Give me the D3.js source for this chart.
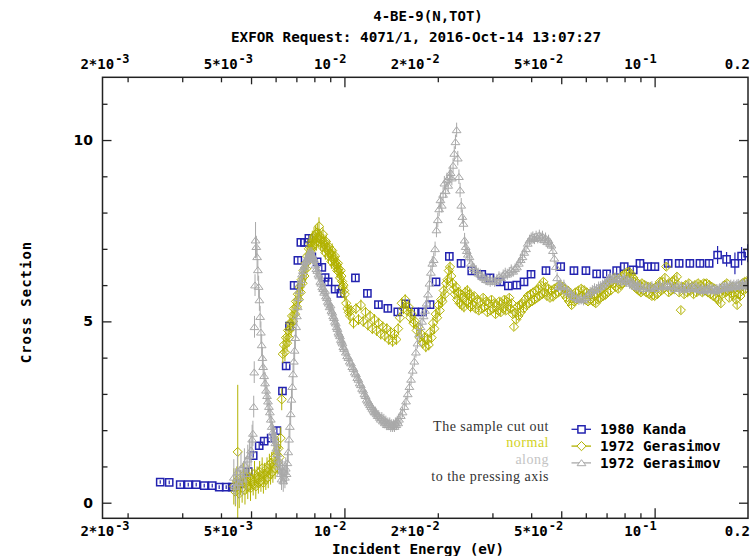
<!DOCTYPE html>
<html><head><meta charset="utf-8">
<script src="https://cdn.jsdelivr.net/npm/d3@7/dist/d3.min.js"></script>
<style>body{margin:0;background:#fff}</style>
</head><body>
<svg id="chart" width="752" height="556"></svg>
<script>
// ---------- DATA ----------
const titleLines = ["4-BE-9(N,TOT)", "EXFOR Request: 4071/1, 2016-Oct-14 13:07:27"];
const xLabelVals = [0.002, 0.005, 0.01, 0.02, 0.05, 0.1, 0.2];
const xLabelBase = ["2*10", "5*10", "10", "2*10", "5*10", "10", "0.2"];
const xLabelExp  = ["-3", "-3", "-2", "-2", "-2", "-1", ""];
const xMinorTicks = [0.002,0.003,0.004,0.006,0.007,0.008,0.009,0.02,0.03,0.04,0.06,0.07,0.08,0.09];
const xMidTicks = [0.005, 0.05];
const xMajorTicks = [0.01, 0.1];
const yMajorTicks = [0, 5, 10];
const yMinorTicks = [1,2,3,4,6,7,8,9,11];
const seriesNames = ["1980 Kanda", "1972 Gerasimov", "1972 Gerasimov"];
const noteLines = ["The sample cut out", "normal", "along", "to the pressing axis"];

// [energy eV, cross section, error]
const kanda = [
[0.002548,0.57,0.05],[0.002724,0.56,0.05],[0.002955,0.50,0.05],[0.003137,0.50,0.05],[0.003328,0.50,0.05],
[0.003532,0.47,0.05],[0.003749,0.47,0.05],[0.003947,0.43,0.05],[0.004158,0.43,0.05],[0.004347,0.43,0.05],
[0.004579,0.52,0.1],[0.004896,0.86,0.1],[0.005081,1.30,0.1],[0.005312,1.57,0.1],[0.005513,1.70,0.1],
[0.005805,1.78,0.1],[0.006057,1.99,0.1],[0.006313,3.08,0.1],[0.006489,3.77,0.1],[0.00665,4.87,0.1],
[0.006886,5.99,0.1],[0.007078,6.68,0.1],[0.007236,7.18,0.1],[0.007433,7.18,0.1],[0.007681,7.29,0.1],
[0.007852,6.78,0.1],[0.008166,6.64,0.1],[0.008455,6.49,0.1],[0.008665,6.21,0.1],[0.00886,6.09,0.1],
[0.009333,5.89,0.1],[0.009737,5.77,0.1],[0.01085,6.20,0.1],[0.01186,5.77,0.1],[0.01287,5.46,0.1],
[0.0138,5.36,0.1],[0.01486,5.26,0.1],[0.01577,5.48,0.1],[0.01681,5.26,0.1],[0.01784,5.26,0.1],
[0.01888,5.46,0.1],[0.01974,6.09,0.1],[0.02179,6.79,0.1],[0.02377,6.60,0.1],[0.02573,6.39,0.1],
[0.02772,6.30,0.1],[0.02947,6.20,0.1],[0.03175,6.09,0.1],[0.03377,5.98,0.1],[0.03594,6.00,0.1],
[0.03793,6.09,0.1],[0.03996,6.30,0.1],[0.04465,6.40,0.1],[0.0498,6.51,0.1],[0.05495,6.40,0.1],
[0.06006,6.40,0.1],[0.06504,6.31,0.1],[0.07005,6.31,0.1],[0.07544,6.40,0.1],[0.07981,6.51,0.1],
[0.08533,6.42,0.1],[0.08968,6.60,0.1],[0.09496,6.51,0.1],[0.1002,6.51,0.1],[0.1106,6.60,0.1],
[0.12,6.60,0.1],[0.1299,6.60,0.1],[0.14,6.60,0.1],[0.1499,6.60,0.1],[0.1596,6.83,0.25],
[0.1706,6.71,0.2],[0.1815,6.60,0.3],[0.1907,6.80,0.25],[0.1995,6.88,0.25]
];

const gerasimovNormal = [
[0.00440,0.45,0.5],[0.00445,0.30,0.4],[0.00450,0.60,0.4],[0.00453,1.40,1.85],[0.00458,0.25,0.4],[0.00462,0.55,0.35],
[0.00468,0.40,0.4],[0.00472,0.75,0.35],[0.00478,0.35,0.4],[0.00483,0.60,0.35],[0.00488,0.45,0.35],[0.00493,0.70,0.35],
[0.00498,0.40,0.35],[0.00503,0.65,0.3],[0.00508,0.50,0.3],[0.00513,0.80,0.35],[0.00518,0.45,0.35],[0.00523,0.70,0.3],
[0.00528,0.55,0.3],[0.00533,0.85,0.3],[0.00538,0.60,0.3],[0.00543,0.95,0.3],[0.00548,0.55,0.3],[0.00553,0.80,0.3],
[0.00558,0.65,0.3],[0.00563,0.95,0.3],[0.00568,0.70,0.3],[0.00573,1.05,0.3],[0.00578,0.80,0.3],[0.00583,1.10,0.3],
[0.00588,0.85,0.3],[0.00593,1.25,0.3],[0.00598,0.95,0.3],[0.00603,1.35,0.3],[0.00608,1.10,0.3],[0.00613,1.50,0.3],
[0.00618,1.25,0.3],[0.00623,1.78,0.3],[0.00628,2.85,0.3],
[0.00633,4.10,0.25],[0.00638,4.35,0.25],[0.00643,4.15,0.25],[0.00648,4.55,0.25],[0.00653,4.40,0.25],[0.00658,4.75,0.25],
[0.00663,4.55,0.25],[0.00668,4.95,0.25],[0.00673,4.80,0.25],[0.00678,5.15,0.25],[0.00683,5.00,0.25],[0.00688,5.35,0.25],
[0.00693,5.20,0.25],[0.00698,5.55,0.25],[0.00703,5.40,0.25],[0.00708,5.75,0.25],[0.00713,5.60,0.25],[0.00718,5.95,0.25],
[0.00723,5.80,0.25],[0.00728,6.15,0.25],[0.00733,6.05,0.25],[0.00738,6.40,0.25],[0.00743,6.25,0.25],[0.00748,6.60,0.25],
[0.00753,6.45,0.25],[0.00758,6.80,0.25],[0.00763,6.65,0.25],[0.00768,7.00,0.25],[0.00773,6.85,0.25],[0.00778,7.15,0.25],
[0.00783,7.00,0.25],[0.00788,7.25,0.25],[0.00793,7.10,0.25],[0.00798,7.35,0.25],[0.00803,7.15,0.25],[0.00808,7.40,0.25],
[0.00813,7.20,0.25],[0.00818,7.45,0.25],[0.00823,7.30,0.25],[0.00828,7.62,0.25],[0.00833,7.35,0.2],[0.00838,7.15,0.2],
[0.00843,7.25,0.2],[0.00848,7.05,0.2],[0.00853,7.40,0.2],[0.00858,7.20,0.2],[0.00863,7.10,0.2],[0.00868,6.90,0.2],
[0.00873,7.20,0.2],[0.00878,7.05,0.2],[0.00883,6.95,0.2],[0.00888,6.80,0.2],[0.00893,7.05,0.2],[0.00898,6.90,0.2],
[0.00903,6.85,0.2],[0.00908,6.65,0.2],[0.00913,6.95,0.2],[0.00918,6.80,0.2],[0.00923,6.70,0.2],[0.00928,6.55,0.2],
[0.00933,6.80,0.2],[0.00938,6.65,0.2],[0.00943,6.55,0.2],[0.00948,6.40,0.2],[0.00953,6.60,0.2],[0.00958,6.45,0.2],
[0.00963,6.35,0.2],[0.00968,6.20,0.2],[0.00973,6.40,0.2],[0.00978,6.25,0.2],[0.00983,6.10,0.2],[0.00988,5.95,0.2],
[0.00993,6.00,0.2],[0.00998,5.85,0.2],[0.01003,5.75,0.2],[0.01013,5.50,0.2],[0.01023,5.35,0.2],[0.01033,5.25,0.2],
[0.01043,5.15,0.2],
[0.0105,5.30,0.15],[0.0107,4.95,0.15],[0.0109,5.35,0.15],[0.0111,5.05,0.15],[0.0113,5.45,0.15],[0.0115,5.00,0.15],
[0.0117,5.25,0.15],[0.0119,4.90,0.15],[0.0121,5.15,0.15],[0.0123,4.80,0.15],[0.0125,5.05,0.15],[0.0127,4.75,0.15],
[0.0129,4.95,0.15],[0.0131,4.65,0.15],[0.0133,4.85,0.15],[0.0135,4.60,0.15],[0.0137,4.80,0.15],[0.0139,4.50,0.15],
[0.0141,4.70,0.15],[0.0143,4.45,0.15],[0.0145,4.65,0.15],[0.0147,4.50,0.15],[0.0149,4.80,0.15],[0.0151,5.10,0.15],
[0.0153,5.50,0.15],[0.0155,5.35,0.15],[0.0157,5.60,0.15],[0.0159,5.30,0.15],[0.0161,5.40,0.15],[0.0163,5.10,0.15],
[0.0165,5.20,0.15],[0.0167,4.95,0.15],[0.0169,5.00,0.15],[0.0171,4.75,0.15],[0.0173,4.85,0.15],[0.0175,4.55,0.15],
[0.0177,4.65,0.15],[0.0179,4.40,0.15],[0.0181,4.55,0.15],[0.0183,4.30,0.15],[0.0185,4.50,0.15],[0.0187,4.35,0.15],
[0.0189,4.70,0.15],[0.0191,4.55,0.15],[0.0193,4.95,0.15],[0.0195,4.80,0.15],[0.0197,5.20,0.15],[0.0199,5.10,0.15],
[0.0201,5.45,0.15],[0.0203,5.30,0.15],[0.0205,5.60,0.15],[0.0207,5.55,0.15],[0.0209,5.85,0.15],[0.0211,5.75,0.15],
[0.0213,6.05,0.15],[0.0215,6.15,0.15],[0.0217,6.40,0.15],[0.0219,6.50,0.15],[0.0221,6.25,0.15],[0.0223,6.05,0.15],
[0.0225,5.90,0.15],[0.0227,5.75,0.15],[0.0229,5.95,0.15],[0.0231,5.60,0.15],[0.0233,5.80,0.15],[0.0235,5.50,0.15],
[0.0237,5.75,0.15],[0.0239,5.45,0.15],[0.0241,5.65,0.15],[0.0243,5.40,0.15],[0.0245,5.80,0.15],[0.0247,5.55,0.15],
[0.0249,5.85,0.15],[0.0251,5.50,0.15],[0.0253,5.75,0.15],[0.0255,5.40,0.15],[0.0257,5.65,0.15],[0.0259,5.45,0.15],
[0.0262,5.70,0.1],[0.0265,5.35,0.1],[0.0268,5.60,0.1],[0.0271,5.30,0.1],[0.0274,5.55,0.1],[0.0277,5.35,0.1],
[0.0280,5.65,0.1],[0.0283,5.40,0.1],[0.0286,5.55,0.1],[0.0289,5.25,0.1],[0.0292,5.50,0.1],[0.0295,5.30,0.1],
[0.0298,5.60,0.1],[0.0301,5.35,0.1],[0.0304,5.50,0.1],[0.0307,5.20,0.1],[0.0310,5.45,0.1],[0.0313,5.30,0.1],
[0.0316,5.55,0.1],[0.0319,5.25,0.1],[0.0322,5.50,0.1],[0.0325,5.35,0.1],[0.0328,5.60,0.1],[0.0331,5.30,0.1],
[0.0334,5.55,0.1],[0.0337,5.40,0.1],[0.0340,5.65,0.1],[0.0343,5.35,0.1],[0.0346,5.50,0.1],[0.0349,5.20,0.1],
[0.0352,4.85,0.1],[0.0355,5.25,0.1],[0.0358,5.05,0.1],[0.0361,5.40,0.1],[0.0364,5.15,0.1],[0.0367,5.45,0.1],
[0.0370,5.25,0.1],[0.0374,5.50,0.1],[0.0378,5.35,0.1],[0.0382,5.60,0.1],[0.0386,5.45,0.1],[0.0390,5.70,0.1],
[0.0394,5.50,0.1],[0.0398,5.75,0.1],[0.0402,5.55,0.1],[0.0406,5.80,0.1],[0.0410,5.60,0.1],[0.0414,5.85,0.1],
[0.0418,5.65,0.1],[0.0422,5.90,0.1],[0.0426,5.70,0.1],[0.0430,6.00,0.1],[0.0434,5.75,0.1],[0.0438,6.09,0.1],
[0.0442,5.80,0.1],[0.0446,5.95,0.1],[0.0450,5.70,0.1],[0.0455,5.90,0.1],[0.0460,5.65,0.1],[0.0465,5.85,0.1],
[0.0470,5.68,0.1],[0.0475,5.90,0.1],[0.0480,5.75,0.1],[0.0485,5.95,0.1],[0.0490,5.80,0.1],[0.0495,6.00,0.1],
[0.0500,5.85,0.1],[0.0505,5.95,0.1],[0.0510,5.75,0.1],[0.0515,5.90,0.1],[0.0520,5.65,0.1],[0.0525,5.85,0.1],
[0.0530,5.55,0.1],[0.0535,5.75,0.1],[0.0540,5.45,0.1],[0.0545,5.70,0.1],[0.0550,5.55,0.1],[0.0556,5.80,0.1],
[0.0562,5.60,0.1],[0.0568,5.85,0.1],[0.0574,5.65,0.1],[0.0580,5.90,0.1],[0.0586,5.70,0.1],[0.0592,5.86,0.1],
[0.0598,5.60,0.1],[0.0604,5.80,0.1],[0.0610,5.55,0.1],[0.0616,5.75,0.1],[0.0622,5.60,0.1],[0.0628,5.80,0.1],
[0.0634,5.55,0.1],[0.0640,5.70,0.1],[0.0646,5.50,0.1],[0.0652,5.75,0.1],[0.0658,5.60,0.1],[0.0664,5.85,0.1],
[0.0670,5.65,0.1],[0.0676,5.90,0.1],[0.0682,5.70,0.1],[0.0688,5.95,0.1],[0.0694,5.73,0.1],[0.0700,6.00,0.1],
[0.0707,5.80,0.1],[0.0714,6.05,0.1],[0.0721,5.85,0.1],[0.0728,6.10,0.1],[0.0735,6.05,0.1],[0.0742,6.20,0.1],
[0.0749,5.95,0.1],[0.0756,6.15,0.1],[0.0763,5.90,0.1],[0.0770,6.19,0.1],[0.0777,6.00,0.1],[0.0784,6.25,0.1],
[0.0791,6.05,0.1],[0.0798,6.30,0.1],[0.0805,6.10,0.1],[0.0812,6.35,0.1],[0.0819,6.15,0.1],[0.0826,6.37,0.1],
[0.0833,6.20,0.1],[0.0840,6.30,0.1],[0.0847,6.05,0.1],[0.0854,6.20,0.1],[0.0861,5.95,0.1],[0.0868,6.10,0.1],
[0.0875,5.90,0.1],[0.0882,6.05,0.1],[0.0889,5.85,0.1],[0.0896,6.00,0.1],[0.0903,5.80,0.1],[0.0910,6.05,0.1],
[0.0920,5.85,0.1],[0.0930,6.00,0.1],[0.0940,5.80,0.1],[0.0950,5.96,0.1],[0.0960,5.75,0.1],[0.0970,5.95,0.1],
[0.0980,5.70,0.1],[0.0990,5.90,0.1],[0.1000,5.70,0.1],[0.1010,5.95,0.1],[0.1020,5.75,0.1],[0.1030,6.00,0.1],
[0.1040,6.09,0.1],[0.1050,5.85,0.1],[0.1060,6.10,0.1],[0.1070,5.90,0.1],[0.1080,6.20,0.1],[0.1090,6.51,0.1],
[0.1100,6.00,0.1],[0.1110,5.80,0.1],[0.1120,6.05,0.1],[0.1130,5.85,0.1],[0.1140,6.10,0.1],[0.1150,5.90,0.1],
[0.1160,6.15,0.1],[0.1170,5.95,0.1],[0.1180,6.23,0.1],[0.1190,6.00,0.1],[0.1200,5.80,0.1],[0.1215,5.31,0.1],
[0.1230,5.95,0.1],[0.1245,5.75,0.1],[0.1260,6.00,0.1],[0.1275,5.80,0.1],[0.1290,6.05,0.1],[0.1305,5.85,0.1],
[0.1320,5.96,0.1],[0.1335,5.75,0.1],[0.1350,6.00,0.1],[0.1365,5.80,0.1],[0.1380,6.05,0.1],[0.1395,5.85,0.1],
[0.1410,6.00,0.1],[0.1425,5.80,0.1],[0.1440,6.05,0.1],[0.1455,5.85,0.1],[0.1470,6.05,0.1],[0.1485,5.80,0.1],
[0.1500,6.00,0.1],[0.1515,5.75,0.1],[0.1530,5.95,0.1],[0.1545,5.70,0.1],[0.1560,5.90,0.1],[0.1575,5.65,0.1],
[0.1590,5.85,0.1],[0.1605,5.60,0.1],[0.1620,5.80,0.1],[0.1635,5.50,0.1],[0.1650,5.75,0.1],[0.1665,5.85,0.1],
[0.1680,6.00,0.1],[0.1695,5.80,0.1],[0.1710,6.05,0.1],[0.1725,5.85,0.1],[0.1740,5.65,0.1],[0.1755,5.90,0.1],
[0.1770,5.77,0.1],[0.1785,5.95,0.1],[0.1800,5.70,0.1],[0.1815,5.90,0.1],[0.1830,5.60,0.1],[0.1845,5.45,0.1],
[0.1860,5.75,0.1],[0.1875,5.90,0.1],[0.1890,5.70,0.1],[0.1905,5.95,0.1],[0.1920,6.05,0.1],[0.1935,5.85,0.1],
[0.1950,6.09,0.1],[0.1965,5.90,0.1],[0.1980,6.10,0.1],[0.1995,6.00,0.1]
];

const gerasimovAlong = [
[0.00440,0.70,0.5],[0.00446,0.45,0.5],[0.00452,0.85,0.5],[0.00458,0.55,0.45],[0.00464,0.95,0.45],[0.00470,0.65,0.45],
[0.00476,1.05,0.45],[0.00482,0.80,0.45],[0.00488,1.20,0.4],[0.00494,1.30,0.45],[0.00500,1.45,0.45],[0.00504,1.75,0.4],
[0.00507,1.91,0.35],[0.00510,2.65,0.3],[0.00512,3.60,0.3],[0.00513,4.85,0.3],[0.00515,6.00,0.3],[0.00517,7.24,0.5],
[0.00520,7.06,0.3],[0.00523,6.78,0.3],[0.00526,6.42,0.3],[0.00529,5.96,0.3],[0.00532,5.59,0.3],[0.00535,5.13,0.3],
[0.00538,4.70,0.3],[0.00541,4.35,0.3],[0.00544,4.00,0.3],[0.00547,3.75,0.3],[0.00551,3.50,0.3],[0.00555,3.30,0.3],
[0.00559,3.10,0.3],[0.00563,2.95,0.3],[0.00567,2.80,0.3],[0.00571,2.65,0.3],[0.00575,2.50,0.3],[0.00579,2.30,0.3],
[0.00583,2.10,0.3],[0.00587,1.95,0.3],[0.00591,1.85,0.3],[0.00595,1.75,0.3],[0.00599,1.65,0.3],[0.00603,1.50,0.3],
[0.00607,1.35,0.3],[0.00611,1.20,0.3],[0.00615,1.10,0.3],[0.00619,1.00,0.3],[0.00623,0.80,0.3],[0.00627,0.65,0.3],
[0.00631,0.90,0.3],[0.00635,0.60,0.3],[0.00639,0.85,0.3],[0.00643,0.70,0.3],[0.00647,0.95,0.3],[0.00651,0.80,0.3],
[0.00655,1.10,0.3],[0.00659,1.40,0.3],[0.00663,1.75,0.3],[0.00667,2.10,0.3],[0.00671,2.45,0.3],[0.00675,2.85,0.3],
[0.00679,3.20,0.3],[0.00683,3.55,0.3],[0.00687,3.90,0.3],[0.00691,4.20,0.3],[0.00695,4.55,0.3],[0.00699,4.85,0.3],
[0.00703,5.15,0.25],[0.00707,5.40,0.25],[0.00711,5.65,0.25],[0.00715,5.85,0.25],[0.00720,6.05,0.2],[0.00725,6.15,0.2],
[0.00730,6.30,0.2],[0.00735,6.40,0.2],[0.00740,6.50,0.2],[0.00745,6.55,0.2],[0.00750,6.65,0.2],[0.00755,6.70,0.2],
[0.00760,6.75,0.2],[0.00765,6.80,0.2],[0.00770,6.78,0.2],[0.00775,6.85,0.2],[0.00780,6.80,0.2],[0.00785,6.85,0.2],
[0.00790,6.78,0.2],[0.00795,6.75,0.2],[0.00800,6.70,0.2],[0.00806,6.55,0.2],[0.00812,6.45,0.2],[0.00818,6.40,0.2],
[0.00824,6.30,0.2],[0.00830,6.25,0.2],[0.00836,6.10,0.2],[0.00842,6.05,0.2],[0.00848,5.95,0.2],[0.00854,5.90,0.2],
[0.00860,5.80,0.2],[0.00866,5.85,0.2],[0.00872,5.70,0.2],[0.00878,5.65,0.2],[0.00884,5.55,0.2],[0.00890,5.50,0.2],
[0.00896,5.40,0.2],[0.00902,5.45,0.2],[0.00908,5.30,0.2],[0.00914,5.25,0.2],[0.00920,5.15,0.2],[0.00926,5.10,0.2],
[0.00932,5.00,0.2],[0.00938,4.95,0.2],[0.00944,4.85,0.2],[0.00950,4.80,0.2],[0.00956,4.70,0.2],[0.00962,4.65,0.2],
[0.00968,4.60,0.2],[0.00974,4.50,0.2],[0.00980,4.45,0.2],[0.00986,4.40,0.2],[0.00992,4.30,0.2],[0.00998,4.25,0.2],
[0.0101,4.15,0.15],[0.0102,4.05,0.15],[0.0103,4.00,0.15],[0.0104,3.90,0.15],[0.0105,3.85,0.15],[0.0106,3.75,0.15],
[0.0107,3.70,0.15],[0.0108,3.60,0.15],[0.0109,3.55,0.15],[0.0110,3.45,0.15],[0.0111,3.40,0.15],[0.0112,3.30,0.15],
[0.0113,3.25,0.15],[0.0114,3.15,0.15],[0.0115,3.10,0.15],[0.0116,3.00,0.15],[0.0117,2.95,0.15],[0.0118,2.85,0.15],
[0.0119,2.80,0.15],[0.0120,2.75,0.15],[0.0121,2.70,0.15],[0.0122,2.65,0.15],[0.0123,2.60,0.15],[0.0124,2.55,0.15],
[0.0125,2.50,0.15],[0.0126,2.50,0.15],[0.0127,2.45,0.15],[0.0128,2.40,0.15],[0.0129,2.40,0.15],[0.0130,2.35,0.15],
[0.0131,2.30,0.15],[0.0132,2.35,0.15],[0.0133,2.25,0.15],[0.0134,2.30,0.15],[0.0135,2.20,0.15],[0.0136,2.25,0.15],
[0.0137,2.15,0.15],[0.0138,2.20,0.15],[0.0139,2.15,0.15],[0.0140,2.20,0.15],[0.0141,2.10,0.15],[0.0142,2.15,0.15],
[0.0143,2.10,0.15],[0.0144,2.15,0.15],[0.0145,2.10,0.15],[0.0146,2.20,0.15],[0.0147,2.15,0.15],[0.0148,2.25,0.15],
[0.0149,2.20,0.15],[0.0150,2.30,0.15],[0.0152,2.40,0.15],[0.0154,2.50,0.15],[0.0156,2.65,0.15],[0.0158,2.80,0.15],
[0.0160,3.00,0.15],[0.0162,3.20,0.15],[0.0164,3.40,0.15],[0.0166,3.65,0.15],[0.0168,3.90,0.15],[0.0170,4.15,0.15],
[0.0172,4.40,0.15],[0.0174,4.65,0.15],[0.0176,4.85,0.15],[0.0178,5.00,0.15],[0.0180,5.15,0.15],[0.0182,5.30,0.15],
[0.0184,5.50,0.2],[0.0186,5.75,0.2],[0.0188,6.05,0.2],[0.0190,6.35,0.2],[0.0192,6.60,0.2],[0.0194,6.70,0.2],
[0.0196,7.00,0.2],[0.0198,7.52,0.2],[0.0200,7.80,0.2],[0.0202,8.10,0.2],[0.0204,8.35,0.2],[0.0206,8.20,0.2],
[0.0208,8.50,0.2],[0.0210,8.81,0.2],[0.0212,8.60,0.2],[0.0214,8.90,0.2],[0.0216,8.75,0.2],[0.0218,8.99,0.2],
[0.0220,9.10,0.2],[0.0222,8.95,0.2],[0.0224,9.30,0.2],[0.0226,9.63,0.2],[0.0228,9.95,0.2],[0.0230,10.28,0.2],
[0.0232,9.50,0.2],[0.0234,8.99,0.2],[0.0236,8.62,0.2],[0.0238,8.20,0.2],[0.0240,7.89,0.2],[0.0242,7.70,0.2],
[0.0244,7.24,0.2],[0.0246,7.06,0.2],[0.0248,6.95,0.2],[0.0250,6.85,0.2],[0.0253,6.78,0.2],[0.0256,6.60,0.15],
[0.0259,6.51,0.15],[0.0262,6.45,0.15],[0.0266,6.40,0.15],[0.0270,6.33,0.15],[0.0274,6.30,0.15],[0.0278,6.23,0.15],
[0.0282,6.20,0.15],[0.0286,6.15,0.15],[0.0290,6.14,0.15],[0.0295,6.10,0.15],[0.0300,6.14,0.15],[0.0305,6.10,0.15],
[0.0310,6.15,0.15],[0.0315,6.23,0.15],[0.0320,6.20,0.15],[0.0325,6.28,0.15],[0.0330,6.33,0.15],[0.0335,6.30,0.15],
[0.0340,6.35,0.15],[0.0345,6.42,0.15],[0.0350,6.38,0.15],[0.0355,6.45,0.15],[0.0360,6.50,0.15],[0.0365,6.60,0.15],
[0.0370,6.70,0.15],[0.0375,6.78,0.15],[0.0380,6.90,0.15],[0.0385,7.00,0.15],[0.0390,7.15,0.15],[0.0395,7.24,0.15],
[0.0400,7.30,0.15],[0.0405,7.33,0.15],[0.0410,7.28,0.15],[0.0415,7.35,0.15],[0.0420,7.30,0.15],[0.0425,7.38,0.15],
[0.0430,7.30,0.15],[0.0435,7.35,0.15],[0.0440,7.25,0.15],[0.0445,7.30,0.15],[0.0450,7.20,0.15],[0.0455,7.24,0.15],
[0.0460,7.15,0.15],[0.0465,7.10,0.15],[0.0470,6.95,0.15],[0.0475,6.74,0.15],[0.0480,6.51,0.15],[0.0485,6.20,0.15],
[0.0490,5.96,0.15],[0.0495,6.00,0.15],[0.0500,5.95,0.15],[0.0510,6.00,0.15],[0.0520,5.85,0.15],[0.0530,5.80,0.15],
[0.0540,5.75,0.15],[0.0550,5.68,0.15],[0.0560,5.65,0.15],[0.0570,5.60,0.15],[0.0580,5.62,0.15],[0.0590,5.59,0.15],
[0.0600,5.65,0.15],[0.0610,5.73,0.15],[0.0620,5.80,0.15],[0.0630,5.85,0.15],[0.0640,5.90,0.15],[0.0650,5.88,0.15],
[0.0660,5.95,0.15],[0.0670,5.96,0.15],[0.0680,6.00,0.15],[0.0690,6.05,0.15],[0.0700,6.10,0.15],[0.0710,6.15,0.15],
[0.0720,6.19,0.15],[0.0730,6.15,0.15],[0.0740,6.19,0.15],[0.0750,6.20,0.15],[0.0760,6.15,0.15],[0.0770,6.19,0.15],
[0.0780,6.10,0.15],[0.0790,6.15,0.15],[0.0800,6.19,0.15],[0.0810,6.10,0.15],[0.0820,6.15,0.15],[0.0830,6.05,0.15],
[0.0840,6.10,0.15],[0.0850,6.05,0.15],[0.0860,6.00,0.15],[0.0870,5.96,0.15],[0.0880,6.00,0.15],[0.0890,5.95,0.15],
[0.0900,5.96,0.15],[0.0920,5.90,0.15],[0.0940,5.96,0.15],[0.0960,5.92,0.15],[0.0980,5.96,0.15],[0.1000,5.90,0.15],
[0.1020,5.96,0.15],[0.1040,6.00,0.15],[0.1060,5.95,0.15],[0.1080,6.00,0.15],[0.1100,5.98,0.15],[0.1120,6.00,0.15],
[0.1140,5.95,0.15],[0.1160,5.90,0.15],[0.1180,5.96,0.15],[0.1200,5.91,0.15],[0.1220,5.95,0.15],[0.1240,5.88,0.15],
[0.1260,5.92,0.15],[0.1280,5.96,0.15],[0.1300,5.90,0.15],[0.1320,5.96,0.15],[0.1340,5.92,0.15],[0.1360,5.96,0.15],
[0.1380,5.90,0.15],[0.1400,5.87,0.15],[0.1420,5.90,0.15],[0.1440,5.85,0.15],[0.1460,5.90,0.15],[0.1480,5.87,0.15],
[0.1500,5.92,0.15],[0.1520,5.87,0.15],[0.1540,5.90,0.15],[0.1560,5.85,0.15],[0.1580,5.88,0.15],[0.1600,5.87,0.15],
[0.1620,5.90,0.15],[0.1640,5.92,0.15],[0.1660,5.96,0.15],[0.1680,5.93,0.15],[0.1700,5.96,0.15],[0.1720,5.92,0.15],
[0.1740,5.96,0.15],[0.1760,6.00,0.15],[0.1780,5.96,0.15],[0.1800,6.00,0.15],[0.1820,5.96,0.15],[0.1840,6.00,0.15],
[0.1860,6.02,0.15],[0.1880,5.98,0.15],[0.1900,6.00,0.15],[0.1920,6.02,0.15],[0.1940,6.00,0.15],[0.1960,6.00,0.15],
[0.1980,6.02,0.15]
];

// ---------- STYLE ----------
const colBlue = "#2323b0", colOlive = "#b2b200", colGray = "#a9a9a9";
const monoFont = "'DejaVu Sans Mono', 'Liberation Mono', monospace";

const svg = d3.select("#chart");
const L = 102.5, R = 748, T = 77.3, B = 518.3;
const x = d3.scaleLog().domain([0.00166, 0.2]).range([L, R]);
const y = d3.scaleLinear().domain([-0.43, 11.73]).range([B, T]);

svg.append("rect").attr("width", 752).attr("height", 556).attr("fill", "#fff");

// titles
svg.append("text").attr("x", 428).attr("y", 21).attr("text-anchor", "middle")
  .attr("font-family", monoFont).attr("font-weight", "bold").attr("font-size", 14).text(titleLines[0]);
svg.append("text").attr("x", 416).attr("y", 41.5).attr("text-anchor", "middle")
  .attr("font-family", monoFont).attr("font-weight", "bold").attr("font-size", 14.3).text(titleLines[1]);

// clip
svg.append("clipPath").attr("id", "plotclip").append("rect")
  .attr("x", L).attr("y", T).attr("width", R - L).attr("height", B - T);
const plot = svg.append("g").attr("clip-path", "url(#plotclip)");

// marker shapes
const squarePath = "M-3.6,-3.6H3.6V3.6H-3.6Z";
const diamondPath = "M0,-4.6L4.6,0L0,4.6L-4.6,0Z";
const trianglePath = "M0,-3.2L4.4,2.8L-4.4,2.8Z";

function drawSeries(data, color, path, sw, errW) {
  const g = plot.append("g");
  g.selectAll("line.err").data(data).join("line")
    .attr("x1", d => x(d[0])).attr("x2", d => x(d[0]))
    .attr("y1", d => y(d[1] - d[2])).attr("y2", d => y(d[1] + d[2]))
    .attr("stroke", color).attr("stroke-width", errW);
  g.selectAll("path.m").data(data).join("path")
    .attr("d", path).attr("transform", d => `translate(${x(d[0])},${y(d[1])})`)
    .attr("fill", "none").attr("stroke", color).attr("stroke-width", sw);
}
drawSeries(kanda, colBlue, squarePath, 1.5, 1.2);
drawSeries(gerasimovNormal, colOlive, diamondPath, 1, 1);
drawSeries(gerasimovAlong, colGray, trianglePath, 1, 1);

// frame
svg.append("rect").attr("x", L).attr("y", T).attr("width", R - L).attr("height", B - T)
  .attr("fill", "none").attr("stroke", "#222").attr("stroke-width", 1.5);

// ticks via d3 axes (inward)
function addAxis(axisFn, scale, vals, size, tx, ty) {
  const g = svg.append("g").attr("transform", `translate(${tx},${ty})`)
    .call(axisFn(scale).tickValues(vals).tickSize(-size).tickFormat(""));
  g.select(".domain").remove();
  g.selectAll("line").attr("stroke", "#222").attr("stroke-width", 1.3);
}
[[xMinorTicks, 5], [xMidTicks, 7], [xMajorTicks, 10]].forEach(([v, s]) => {
  addAxis(d3.axisBottom, x, v, s, 0, B);
  addAxis(d3.axisTop, x, v, s, 0, T);
});
[[yMinorTicks, 5], [yMajorTicks, 9]].forEach(([v, s]) => {
  addAxis(d3.axisLeft, y, v, s, L, 0);
  addAxis(d3.axisRight, y, v, s, R, 0);
});

// x tick labels (bottom and top)
function xLabels(baseY) {
  xLabelVals.forEach((v, i) => {
    const t = svg.append("text").attr("x", x(v) + 2).attr("y", baseY).attr("text-anchor", "end")
      .attr("font-family", monoFont).attr("font-weight", "bold").attr("font-size", 14);
    t.append("tspan").text(xLabelBase[i]);
    if (xLabelExp[i]) t.append("tspan").attr("dy", -6).attr("dx", 1).attr("font-size", 12).text(xLabelExp[i]);
  });
}
xLabels(536);
xLabels(68.5);

// y tick labels
yMajorTicks.forEach(v => {
  svg.append("text").attr("x", 93).attr("y", y(v) + 5).attr("text-anchor", "end")
    .attr("font-family", "'DejaVu Sans', Verdana, sans-serif").attr("font-weight", "bold").attr("font-size", 14)
    .text(v);
});

// axis titles
svg.append("text").attr("x", 418).attr("y", 554).attr("text-anchor", "middle")
  .attr("font-family", monoFont).attr("font-weight", "bold").attr("font-size", 14.3).text("Incident Energy (eV)");
svg.append("text").attr("transform", "translate(31,302) rotate(-90)").attr("text-anchor", "middle")
  .attr("font-family", monoFont).attr("font-weight", "bold").attr("font-size", 14).attr("letter-spacing", 1)
  .text("Cross Section");

// annotation notes
const noteColors = ["#333", "#d2d21e", "#c4c4c4", "#333"];
const noteY = [431, 447, 463.5, 481];
noteLines.forEach((s, i) => {
  svg.append("text").attr("x", 549).attr("y", noteY[i]).attr("text-anchor", "end")
    .attr("font-family", "'Liberation Serif', 'DejaVu Serif', serif").attr("font-size", 14)
    .attr("letter-spacing", 0.5).attr("fill", noteColors[i]).text(s);
});

// legend
const legColors = [colBlue, colOlive, colGray];
const legPaths = [squarePath, diamondPath, trianglePath];
const legSW = [1.5, 1, 1];
seriesNames.forEach((s, i) => {
  const cy = 429.3 + i * 16.8;
  svg.append("line").attr("x1", 571.5).attr("x2", 591).attr("y1", cy).attr("y2", cy)
    .attr("stroke", legColors[i]).attr("stroke-width", 1.3);
  svg.append("path").attr("d", legPaths[i]).attr("transform", `translate(581.5,${cy})`)
    .attr("fill", "#fff").attr("stroke", legColors[i]).attr("stroke-width", legSW[i]);
  svg.append("text").attr("x", 600).attr("y", cy + 5).attr("font-family", monoFont)
    .attr("font-weight", "bold").attr("font-size", 14.3).text(s);
});
</script>
</body></html>
